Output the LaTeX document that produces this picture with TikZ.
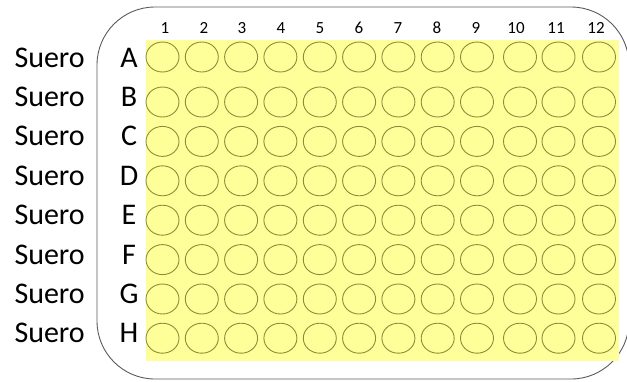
\documentclass[tikz,border=0pt]{standalone}
\usepackage{fontspec}
\setmainfont{Carlito}
\usetikzlibrary{shapes.geometric}
\definecolor{plateyellow}{HTML}{FFFF99}
\definecolor{wellline}{HTML}{8C8C3C}
\definecolor{plateline}{HTML}{5A5A5A}
\begin{document}
\begin{tikzpicture}[x=1bp,y=-1bp,
  well/.style={ellipse,draw=wellline,line width=0.9bp,minimum width=33bp,minimum height=30bp,inner sep=0pt},
  serumlbl/.style={font=\fontsize{30bp}{33bp}\selectfont,anchor=base east,inner sep=0pt},
  rowlbl/.style={font=\fontsize{30bp}{33bp}\selectfont,anchor=base,inner sep=0pt},
  collbl/.style={font=\fontsize{17bp}{19bp}\selectfont,anchor=base,inner sep=0pt}]
\useasboundingbox (0,0) rectangle (627,381);
\clip (0,0) rectangle (627,381);
\draw[plateline,line width=0.9bp,rounded corners=58bp] (97,7) rectangle (629,379);
\fill[plateyellow] (146,40) rectangle (619,361);
% column numbers
\foreach \c/\x in {1/165,2/204,3/242,4/281,5/320,6/359,7/398,8/437,9/476,10/516,11/556,12/596}
  \node[collbl] (n\c) at (\x,33) {\c};
% rows
\foreach \r/\yb/\yw in {A/67/57,B/106.4/102,C/145.8/141.4,D/185.2/180.8,E/224.6/220.2,F/264/259.6,G/303.4/299,H/342.8/338.2}{
  \node[serumlbl] (s\r) at (85,\yb) {Suero};
  \node[rowlbl] (l\r) at (129,\yb) {\r};
  \foreach \c/\x in {1/162.5,2/201.8,3/241.1,4/280.4,5/319.8,6/359.1,7/398.4,8/437.7,9/477,10/520,11/558.5,12/599}
    \node[well] (w\r\c) at (\x,\yw) {};
}
\end{tikzpicture}
\end{document}
